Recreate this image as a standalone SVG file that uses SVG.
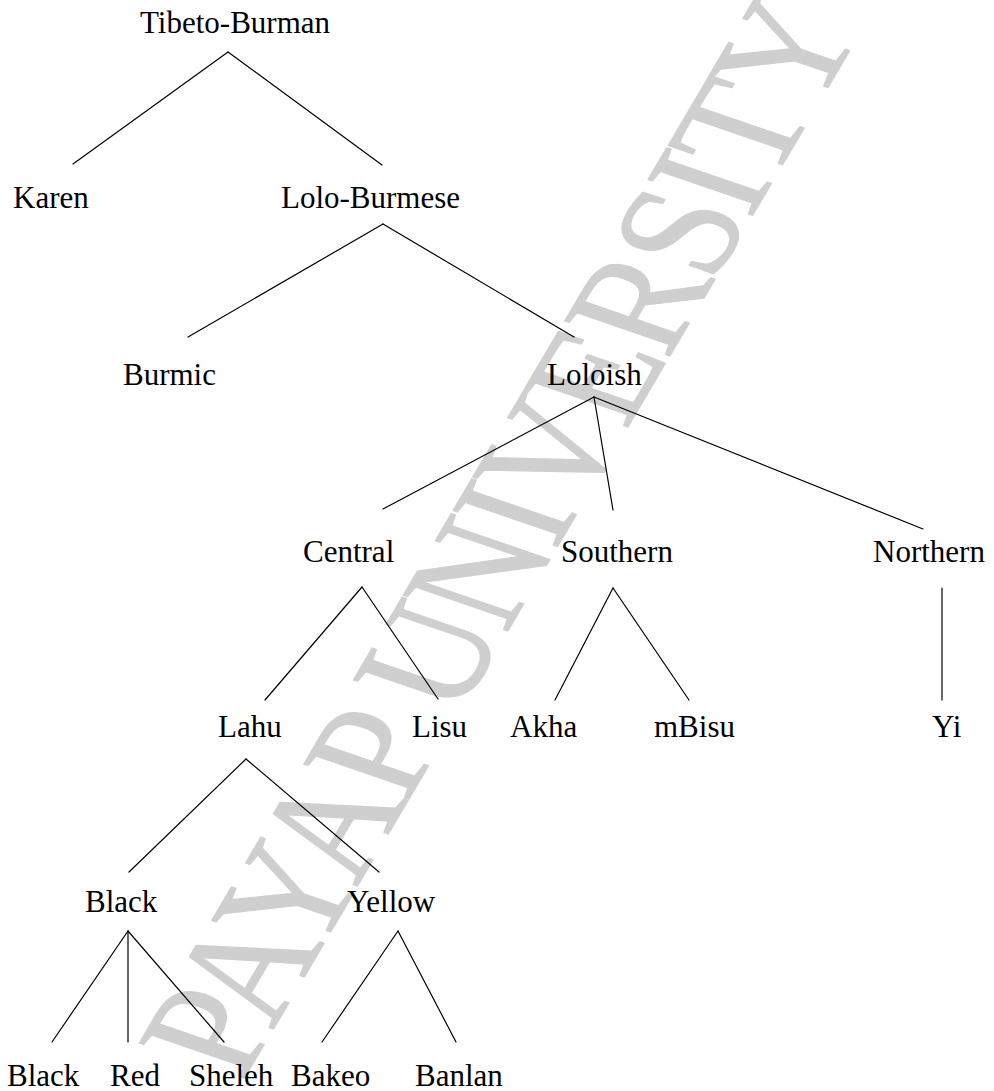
<svg xmlns="http://www.w3.org/2000/svg" width="994" height="1091" viewBox="0 0 994 1091">
<style>
.lbl{font-family:"Liberation Serif","Times New Roman",serif;font-size:31px;fill:#000}
.wm{font-family:"Liberation Serif","Times New Roman",serif;font-size:175px;letter-spacing:-6px;fill:#cfcfcf;stroke:#cfcfcf;stroke-width:1.5;stroke-linejoin:round}
.edge{stroke:#000;stroke-width:1.2;fill:none;stroke-linecap:round}
</style>
<rect width="994" height="1091" fill="#fff"/>
<g id="watermark">
<text class="wm" text-anchor="middle" transform="translate(552,556) scale(1,0.763) rotate(-65.8)">PAYAP UNIVERSITY</text>
</g>
<g id="connectors">
<line class="edge" x1="228" y1="52" x2="73" y2="164"/>
<line class="edge" x1="228" y1="52" x2="382" y2="165"/>
<line class="edge" x1="383" y1="224" x2="188" y2="337"/>
<line class="edge" x1="383" y1="224" x2="574" y2="337"/>
<line class="edge" x1="594" y1="397" x2="383" y2="509"/>
<line class="edge" x1="594" y1="397" x2="613" y2="510"/>
<line class="edge" x1="594" y1="397" x2="923" y2="529"/>
<line class="edge" x1="362" y1="587" x2="265" y2="700"/>
<line class="edge" x1="362" y1="587" x2="438" y2="699"/>
<line class="edge" x1="613" y1="588" x2="555" y2="700"/>
<line class="edge" x1="613" y1="588" x2="689" y2="700"/>
<line class="edge" x1="942" y1="588" x2="942" y2="700"/>
<line class="edge" x1="246" y1="759" x2="129" y2="872"/>
<line class="edge" x1="246" y1="759" x2="379" y2="872"/>
<line class="edge" x1="128" y1="931" x2="52" y2="1042"/>
<line class="edge" x1="128" y1="931" x2="128" y2="1042"/>
<line class="edge" x1="128" y1="931" x2="224" y2="1042"/>
<line class="edge" x1="398" y1="931" x2="322" y2="1042"/>
<line class="edge" x1="398" y1="931" x2="456" y2="1042"/>
</g>
<g id="n-tibeto-burman"><text class="lbl" x="140" y="33">Tibeto-Burman</text></g>
<g id="n-karen"><text class="lbl" x="13" y="208">Karen</text></g>
<g id="n-lolo-burmese"><text class="lbl" x="281" y="208">Lolo-Burmese</text></g>
<g id="n-burmic"><text class="lbl" x="123" y="385">Burmic</text></g>
<g id="n-loloish"><text class="lbl" x="547" y="385">Loloish</text></g>
<g id="n-central"><text class="lbl" x="303" y="562">Central</text></g>
<g id="n-southern"><text class="lbl" x="561" y="562">Southern</text></g>
<g id="n-northern"><text class="lbl" x="873" y="562">Northern</text></g>
<g id="n-lahu"><text class="lbl" x="218" y="737">Lahu</text></g>
<g id="n-lisu"><text class="lbl" x="412" y="737">Lisu</text></g>
<g id="n-akha"><text class="lbl" x="510" y="737">Akha</text></g>
<g id="n-mbisu"><text class="lbl" x="654" y="737">mBisu</text></g>
<g id="n-yi"><text class="lbl" x="932" y="737">Yi</text></g>
<g id="n-black"><text class="lbl" x="85" y="912">Black</text></g>
<g id="n-yellow"><text class="lbl" x="347" y="912">Yellow</text></g>
<g id="n-black2"><text class="lbl" x="7" y="1086">Black</text></g>
<g id="n-red"><text class="lbl" x="110" y="1086">Red</text></g>
<g id="n-sheleh"><text class="lbl" x="189" y="1086">Sheleh</text></g>
<g id="n-bakeo"><text class="lbl" x="291" y="1086">Bakeo</text></g>
<g id="n-banlan"><text class="lbl" x="415" y="1086">Banlan</text></g>
</svg>
